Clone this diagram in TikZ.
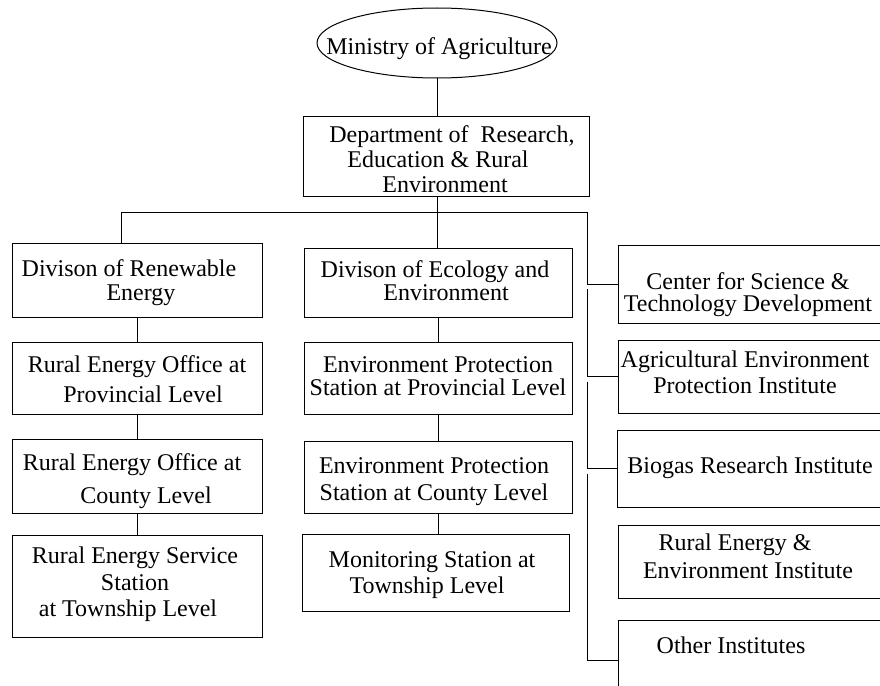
\documentclass[tikz,border=0pt]{standalone}
\usepackage{fontspec}
\setmainfont{Liberation Serif}
\usetikzlibrary{shapes.geometric,calc}
\newcommand\padx[1]{\makebox[#1]{}}
\newcommand\fsz[1]{\fontsize{24}{#1}\selectfont\lineskiplimit=-50pt\relax}
\newcommand\bxnode[5]{\node[bx, minimum width={(#4-#2)*1pt}, minimum height={(#5-#3)*1pt}] (#1) at ({(#2+#4)/2},{(#3+#5)/2}) {};}
\begin{document}
\begin{tikzpicture}[x=1pt,y=-1pt,line width=1pt,
  bx/.style={draw, inner sep=0pt, outer sep=0pt},
  tb/.style={anchor=north, inner sep=0pt, align=center},
  ln/.style={draw}]
\useasboundingbox (0,0) rectangle (880,685);
\clip (0,0) rectangle (880,685);

% top
\node[draw, ellipse, inner sep=0pt, outer sep=0pt, minimum width=240pt, minimum height=70pt] (min) at (437,43) {};
\node[tb, font=\fsz{25}] (tmin) at (439,34) {\vrule height 20pt width 0pt\relax Ministry of Agriculture};
\bxnode{dept}{303}{116}{589}{196}
\node[tb, font=\fsz{25}] (tdept) at (452,122) {\vrule height 20pt width 0pt\relax Department of\ \ Research,\\Education \& Rural\padx{28pt}\\Environment\padx{14pt}};

% left column
\bxnode{ren}{12}{243}{262}{317}
\node[tb, font=\fsz{24}] (tren) at (129,256) {\vrule height 20pt width 0pt\relax Divison of Renewable\\\padx{24pt}Energy};
\bxnode{rep}{12}{342}{262}{414}
\node[tb, font=\fsz{30}] (trep) at (137,352) {\vrule height 20pt width 0pt\relax Rural Energy Office at\\\padx{12pt}Provincial Level};
\bxnode{rec}{12}{439}{262}{513}
\node[tb, font=\fsz{33}] (trec) at (132,450) {\vrule height 20pt width 0pt\relax Rural Energy Office at\\\padx{28pt}County Level};
\bxnode{res}{12}{535}{262}{637}
\node[tb, font=\fsz{26.5}] (tres) at (135,543) {\vrule height 20pt width 0pt\relax Rural Energy Service\\Station\\at Township Level\padx{14pt}};

% middle column
\bxnode{eco}{304}{248}{572}{317}
\node[tb, font=\fsz{23}] (teco) at (435,257) {\vrule height 20pt width 0pt\relax Divison of Ecology and\\\padx{22pt}Environment};
\bxnode{epp}{304}{342}{572}{414}
\node[tb, font=\fsz{23}] (tepp) at (438,352) {\vrule height 20pt width 0pt\relax Environment Protection\\Station at Provincial Level};
\bxnode{epc}{304}{441}{572}{513}
\node[tb, font=\fsz{27}] (tepc) at (434,453) {\vrule height 20pt width 0pt\relax Environment Protection\\Station at County Level};
\bxnode{mst}{302}{534}{569}{611}
\node[tb, font=\fsz{26}] (tmst) at (432,547) {\vrule height 20pt width 0pt\relax Monitoring Station at\\Township Level\padx{10pt}};

% right column
\bxnode{cst}{618}{245}{900}{323}
\node[tb, font=\fsz{22}] (tcst) at (748,269) {\vrule height 20pt width 0pt\relax Center for Science \&\\Technology Development};
\bxnode{aep}{618}{340}{900}{413}
\node[tb, font=\fsz{26}] (taep) at (745,347) {\vrule height 20pt width 0pt\relax Agricultural Environment\\Protection Institute};
\bxnode{bri}{617}{430}{900}{507}
\node[tb, font=\fsz{25}] (tbri) at (750,453) {\vrule height 20pt width 0pt\relax Biogas Research Institute};
\bxnode{rei}{618}{525}{900}{598}
\node[tb, font=\fsz{28}] (trei) at (735,530) {\vrule height 20pt width 0pt\relax Rural Energy \&\\\padx{26pt}Environment Institute};
\bxnode{oth}{618}{620}{900}{700}
\node[tb, font=\fsz{25}] (toth) at (731,633) {\vrule height 20pt width 0pt\relax Other Institutes};

% connectors
\coordinate (j) at (437,212);
\coordinate (lj) at (121,212);
\coordinate (rj) at (587,212);
\draw (min.south) -- (min.south |- dept.north);
\draw (j |- dept.south) -- (j);
\draw (j) -- (lj) -- (lj |- ren.north);
\draw (j) -- (j |- eco.north);
\draw (j) -- (rj) -- (rj |- cst.west) -- (cst.west);
\draw ($(rj |- cst.west)+(0,5)$) -- (rj |- aep.west) -- (aep.west);
\draw ($(rj |- aep.west)+(0,5)$) -- (rj |- bri.west) -- (bri.west);
\draw ($(rj |- bri.west)+(0,5)$) -- (rj |- oth.west) -- (oth.west);

\draw (ren.south) -- (rep.north);
\draw (rep.south) -- (rec.north);
\draw (rec.south) -- (res.north);
\draw (eco.south) -- (epp.north);
\draw (epp.south) -- (epc.north);
\draw (epc.south) -- (epc.south |- mst.north);
\end{tikzpicture}
\end{document}
